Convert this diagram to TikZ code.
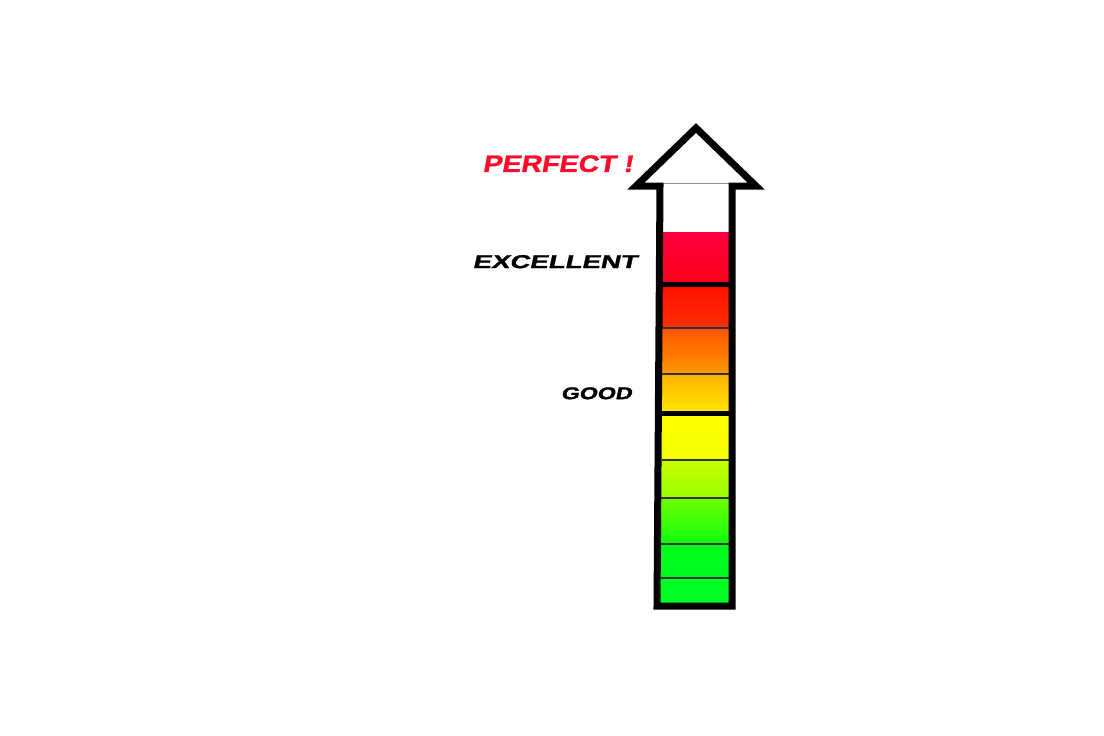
\documentclass[tikz,border=0pt]{standalone}
\usepackage{graphicx}
\usepackage{fontspec}
\setmainfont{Liberation Sans}
\newfontfamily\techfont[FakeSlant=0.15,FakeBold=1.2]{Liberation Sans Bold}
\definecolor{c1a}{HTML}{FF0042}
\definecolor{c1b}{HTML}{FF0018}
\definecolor{c2a}{HTML}{FF0C00}
\definecolor{c2b}{HTML}{FF3000}
\definecolor{c3a}{HTML}{FF5400}
\definecolor{c3b}{HTML}{FF9800}
\definecolor{c4a}{HTML}{FFB000}
\definecolor{c4b}{HTML}{FFEA00}
\definecolor{c5a}{HTML}{FFFF00}
\definecolor{c5b}{HTML}{F4FF00}
\definecolor{c6a}{HTML}{C8FF00}
\definecolor{c6b}{HTML}{98FF00}
\definecolor{c7a}{HTML}{70FF00}
\definecolor{c7b}{HTML}{10FF10}
\definecolor{c8a}{HTML}{00FF1C}
\definecolor{c8b}{HTML}{00F820}
\definecolor{c9a}{HTML}{00FF22}
\definecolor{c9b}{HTML}{00FF22}
\definecolor{perfred}{HTML}{FF0A28}
\begin{document}
\begin{tikzpicture}[x=0.75pt,y=-0.75pt,
  outline/.style={draw=black,line width=5.25pt,line join=miter,miter limit=10},
  thinsep/.style={draw=black!80,line width=0.9pt},
  thicksep/.style={draw=black,line width=3.2pt},
  label/.style={inner sep=0pt,anchor=east}]
\useasboundingbox[fill=white] (0,0) rectangle (1104,736);
% gradient segments
\foreach \ya/\yb/\ca/\cb in {232/284/c1a/c1b,284/328/c2a/c2b,328/374/c3a/c3b,374/413/c4a/c4b,413/460/c5a/c5b,460/498/c6a/c6b,498/544/c7a/c7b,544/578/c8a/c8b,578/606/c9a/c9b}{
  \pgfmathsetmacro\xa{663.5-3*(\ya-185)/421}
  \pgfmathsetmacro\xb{663.5-3*(\yb-185)/421}
  \shade[top color=\ca,bottom color=\cb] (\xa,\ya) -- (729,\ya) -- (729,\yb) -- (\xb,\yb) -- cycle;
}
% separators
\foreach \y in {328,374,460,498,544,578}{
  \pgfmathsetmacro\xs{663.5-3*(\y-185)/421}
  \draw[thinsep] (\xs,\y) -- (729,\y);
}
\foreach \y in {284.5,413.5}{
  \pgfmathsetmacro\xs{663.5-3*(\y-185)/421}
  \draw[thicksep] (\xs,\y) -- (729,\y);
}
\draw[draw=black!45,line width=0.9pt] (663.5,183.5) -- (729,183.5);
% arrow outline
\coordinate (tip) at (696,128);
\coordinate (hl) at (636,186);
\coordinate (sl) at (660,186);
\coordinate (bl) at (657,606);
\coordinate (br) at (732,606);
\coordinate (sr) at (732,186);
\coordinate (hr) at (756,186);
\draw[outline] (tip) -- (hl) -- (sl) -- (bl) -- (br) -- (sr) -- (hr) -- cycle;
% labels
\node[label,text=perfred,font=\fontsize{17.8pt}{20pt}\techfont] (perfect) at (633,163.7) {\scalebox{1.2}[1]{PERFECT !}};
\node[label,text=black,font=\fontsize{14pt}{16pt}\techfont] (excellent) at (637,261.7) {\scalebox{1.48}[1]{EXCELLENT}};
\node[label,text=black,font=\fontsize{12.8pt}{14pt}\techfont] (good) at (632,393.3) {\scalebox{1.36}[1]{GOOD}};
\end{tikzpicture}
\end{document}
